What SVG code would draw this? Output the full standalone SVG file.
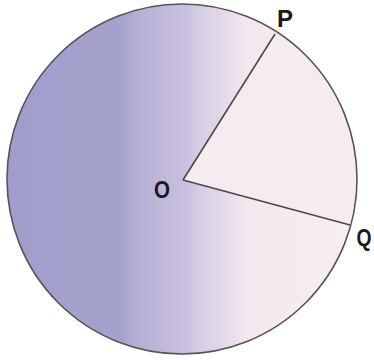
<svg xmlns="http://www.w3.org/2000/svg" width="374" height="360" viewBox="0 0 374 360">
<defs>
<linearGradient id="g" gradientUnits="userSpaceOnUse" x1="7" y1="0" x2="357" y2="0">
<stop offset="0" stop-color="#a09dcb"/>
<stop offset="0.33" stop-color="#a5a3cd"/>
<stop offset="0.37" stop-color="#b2b0d2"/>
<stop offset="0.41" stop-color="#bcb3d7"/>
<stop offset="0.51" stop-color="#c8bfe0"/>
<stop offset="0.55" stop-color="#d5cfe4"/>
<stop offset="0.61" stop-color="#e2d6e8"/>
<stop offset="0.65" stop-color="#ecdfed"/>
<stop offset="0.69" stop-color="#f4e8ef"/>
<stop offset="1" stop-color="#f8eff0"/>
</linearGradient>
<style>
.lbl{font-family:"Liberation Sans",Arial,sans-serif;font-weight:bold;font-size:24px;fill:#1a1a1a}
.ln{stroke:#4a4a4a;stroke-width:1.6;fill:none}
</style>
</defs>
<g id="circle">
<circle cx="182" cy="179" r="175" fill="url(#g)" stroke="#555" stroke-width="1.6"/>
<path d="M183,180 L275,34 A175,175 0 0 1 350,225 Z" fill="#f6ecef"/>
</g>
<g id="connectors">
<line class="ln" x1="183" y1="180" x2="275" y2="34"/>
<line class="ln" x1="183" y1="180" x2="350" y2="225"/>
</g>
<g id="O"><text class="lbl" x="162" y="198" text-anchor="middle" textLength="16" lengthAdjust="spacingAndGlyphs">O</text></g>
<g id="P"><text class="lbl" x="285" y="27" text-anchor="middle">P</text></g>
<g id="Q"><text class="lbl" x="364" y="246" text-anchor="middle" textLength="15" lengthAdjust="spacingAndGlyphs">Q</text></g>
</svg>
